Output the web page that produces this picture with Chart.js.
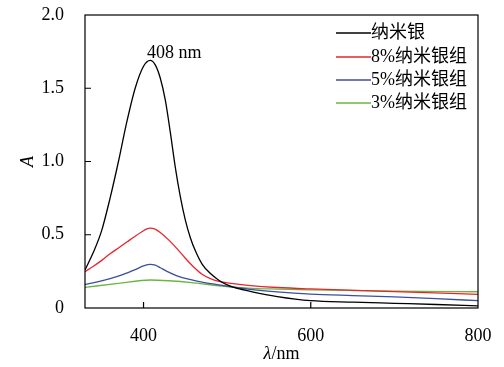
<!DOCTYPE html>
<html>
<head>
<meta charset="utf-8">
<script src="https://cdn.jsdelivr.net/npm/chart.js@4"></script>
<style>
  html, body { margin: 0; padding: 0; background: #fff; }
  #wrap { width: 504px; height: 367px; }
</style>
</head>
<body>
<div id="wrap"><canvas id="uvChart"></canvas></div>
<script>
// series labels and colours
var seriesLabels = ["纳米银", "8%纳米银组", "5%纳米银组", "3%纳米银组"];
var seriesColors = ["#000000", "#e5262e", "#3c4ea3", "#6db63e"];

// black: pure nano silver
var lamBlack = [330, 340, 350, 360, 370, 380, 390, 400, 408, 414, 420, 426, 432, 438, 444, 450, 456, 462, 470, 480, 490, 500, 515, 530, 560, 600, 650, 700, 750, 800];
var absBlack = [0.26, 0.38, 0.53, 0.75, 1.00, 1.27, 1.50, 1.65, 1.69, 1.66, 1.57, 1.42, 1.20, 0.96, 0.76, 0.60, 0.48, 0.39, 0.30, 0.235, 0.19, 0.158, 0.13, 0.11, 0.078, 0.05, 0.04, 0.032, 0.024, 0.015];

// red: 8%
var lamRed = [330, 340, 350, 360, 370, 380, 390, 398, 404, 408, 413, 420, 430, 440, 450, 460, 470, 480, 490, 505, 525, 560, 600, 700, 800];
var absRed = [0.248, 0.285, 0.325, 0.37, 0.41, 0.45, 0.49, 0.52, 0.54, 0.545, 0.54, 0.515, 0.465, 0.405, 0.34, 0.28, 0.23, 0.20, 0.182, 0.168, 0.155, 0.14, 0.13, 0.112, 0.093];

// blue: 5%
var lamBlue = [330, 345, 360, 375, 390, 400, 408, 414, 420, 428, 440, 455, 470, 490, 510, 530, 560, 600, 650, 700, 750, 800];
var absBlue = [0.16, 0.178, 0.20, 0.228, 0.262, 0.287, 0.298, 0.293, 0.275, 0.25, 0.22, 0.195, 0.177, 0.158, 0.14, 0.126, 0.11, 0.095, 0.085, 0.076, 0.064, 0.05];

// green: 3%
var lamGreen = [330, 370, 408, 430, 460, 490, 525, 560, 600, 700, 800];
var absGreen = [0.141, 0.168, 0.191, 0.186, 0.172, 0.152, 0.136, 0.129, 0.124, 0.115, 0.111];

// axes
var xTicks = [400, 600, 800];
var yTicks = [0, 0.5, 1.0, 1.5, 2.0];
var yTickLabels = ["0", "0.5", "1.0", "1.5", "2.0"];
var peakText = "408 nm";
var peakPos = [404, 1.69];

var serif = "'Liberation Serif', 'Noto Sans CJK SC', serif";

function toPoints(xs, ys){
    var pts = [];
    for (let i = 0; i < xs.length; i++){
        pts.push({x: xs[i], y: ys[i]});
    }
    return pts;
}

var allLams = [lamBlack, lamRed, lamBlue, lamGreen];
var allAbs = [absBlack, absRed, absBlue, absGreen];
var datasets = [];
for (let i = 0; i < seriesLabels.length; i++){
    datasets.push({
        label: seriesLabels[i],
        data: toPoints(allLams[i], allAbs[i]),
        borderColor: seriesColors[i],
        borderWidth: 1.3,
        pointRadius: 0,
        fill: false,
        cubicInterpolationMode: "monotone"
    });
}

// frame, inward ticks, legend, annotation, x title
var decor = {
    id: "decor",
    afterDraw: function(chart){
        var ctx = chart.ctx;
        var a = chart.chartArea;
        var xs = chart.scales.x;
        var ys = chart.scales.y;
        ctx.save();
        ctx.strokeStyle = "#000";
        ctx.lineWidth = 1.2;
        ctx.strokeRect(a.left, a.top, a.right - a.left, a.bottom - a.top);
        ctx.beginPath();
        xTicks.forEach(function(v){
            var px = xs.getPixelForValue(v);
            if (px > a.left + 1 && px < a.right - 1){
                ctx.moveTo(px, a.bottom);
                ctx.lineTo(px, a.bottom - 6);
            }
        });
        yTicks.forEach(function(v){
            var py = ys.getPixelForValue(v);
            if (py > a.top + 1 && py < a.bottom - 1){
                ctx.moveTo(a.left, py);
                ctx.lineTo(a.left + 6, py);
            }
        });
        ctx.stroke();

        // legend
        ctx.font = "18px " + serif;
        ctx.textBaseline = "middle";
        ctx.textAlign = "left";
        var ly = [33, 57, 80, 103];
        chart.data.datasets.forEach(function(ds, i){
            ctx.strokeStyle = ds.borderColor;
            ctx.lineWidth = 1.3;
            ctx.beginPath();
            ctx.moveTo(336, ly[i]);
            ctx.lineTo(371, ly[i]);
            ctx.stroke();
            ctx.fillStyle = "#000";
            ctx.fillText(ds.label, 371, ly[i]);
        });

        // peak annotation
        ctx.textBaseline = "alphabetic";
        ctx.fillText(peakText, xs.getPixelForValue(peakPos[0]), ys.getPixelForValue(peakPos[1]) - 2);

        // x title: italic lambda + /nm
        var cx = (a.left + a.right) / 2;
        ctx.font = "italic 18px " + serif;
        var w1 = ctx.measureText("λ").width;
        ctx.font = "18px " + serif;
        var w2 = ctx.measureText("/nm").width;
        var sx = cx - (w1 + w2) / 2;
        ctx.textBaseline = "middle";
        ctx.font = "italic 18px " + serif;
        ctx.fillText("λ", sx, 354);
        ctx.font = "18px " + serif;
        ctx.fillText("/nm", sx + w1, 354);
        ctx.restore();
    }
};

new Chart("uvChart", {
    type: "line",
    data: { datasets: datasets },
    options: {
        responsive: true,
        maintainAspectRatio: false,
        animation: false,
        layout: { padding: { top: 15, right: 26, left: 0, bottom: 0 } },
        plugins: {
            legend: { display: false },
            tooltip: { enabled: false }
        },
        scales: {
            x: {
                type: "linear",
                min: 330,
                max: 800,
                grid: { display: false },
                border: { display: false },
                afterBuildTicks: function(scale){
                    scale.ticks = xTicks.map(function(v){ return {value: v}; });
                },
                afterFit: function(scale){
                    scale.height = 59;
                    scale.paddingLeft = 0;
                    scale.paddingRight = 0;
                },
                ticks: {
                    color: "#000",
                    padding: 9,
                    maxRotation: 0,
                    font: { family: serif, size: 18 }
                }
            },
            y: {
                type: "linear",
                min: 0,
                max: 2,
                grid: { display: false },
                border: { display: false },
                afterBuildTicks: function(scale){
                    scale.ticks = yTicks.map(function(v){ return {value: v}; });
                },
                afterFit: function(scale){
                    scale.width = 85;
                    scale.paddingTop = 0;
                    scale.paddingBottom = 0;
                },
                ticks: {
                    color: "#000",
                    padding: 13,
                    font: { family: serif, size: 18 },
                    callback: function(v){
                        var i = yTicks.indexOf(v);
                        return i >= 0 ? yTickLabels[i] : "";
                    }
                },
                title: {
                    display: true,
                    text: "A",
                    color: "#000",
                    padding: { top: 17, bottom: 0 },
                    font: { family: serif, size: 18, style: "italic" }
                }
            }
        }
    },
    plugins: [decor]
});
</script>
</body>
</html>
